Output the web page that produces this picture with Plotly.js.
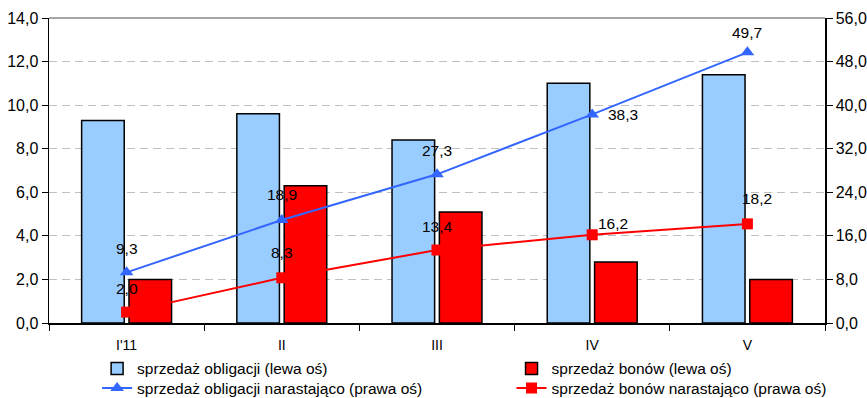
<!DOCTYPE html>
<html>
<head>
<meta charset="utf-8">
<script src="https://cdn.plot.ly/plotly-3.0.1.min.js"></script>
<style>
  html, body { margin: 0; padding: 0; background: #fff; }
  #chart { width: 867px; height: 398px; }
</style>
</head>
<body>
<div id="chart"></div>
<script>
// Months
const categories = ["I'11", "II", "III", "IV", "V"];
// Monthly sales (left axis)
const obligacje = [9.3, 9.6, 8.4, 11.0, 11.4];
const bony = [2.0, 6.3, 5.1, 2.8, 2.0];
// Cumulative sales (right axis)
const obligacjeNarast = [9.3, 18.9, 27.3, 38.3, 49.7];
const bonyNarast = [2.0, 8.3, 13.4, 16.2, 18.2];

const seriesNames = [
  "sprzedaż obligacji (lewa oś)",
  "sprzedaż bonów (lewa oś)",
  "sprzedaż obligacji narastająco (prawa oś)",
  "sprzedaż bonów narastająco (prawa oś)"
];

const FONT = "Arial, 'Liberation Sans', sans-serif";
const fmt = v => v.toFixed(1).replace('.', ',');

const traces = [
  {
    type: 'bar', name: seriesNames[0], x: categories, y: obligacje,
    marker: { color: '#99CCFF', line: { color: '#000', width: 1.5 } },
    legend: 'legend', hoverinfo: 'none'
  },
  {
    type: 'bar', name: seriesNames[1], x: categories, y: bony,
    marker: { color: '#FF0000', line: { color: '#000', width: 1.5 } },
    legend: 'legend2', hoverinfo: 'none'
  },
  {
    type: 'scatter', mode: 'lines+markers', name: seriesNames[2],
    x: categories, y: obligacjeNarast, yaxis: 'y2',
    line: { color: '#3366FF', width: 2 },
    marker: { symbol: 'triangle-up', size: 12, color: '#3366FF' },
    legend: 'legend3', hoverinfo: 'none'
  },
  {
    type: 'scatter', mode: 'lines+markers', name: seriesNames[3],
    x: categories, y: bonyNarast, yaxis: 'y2',
    line: { color: '#FF0000', width: 2 },
    marker: { symbol: 'square', size: 11, color: '#FF0000' },
    legend: 'legend4', hoverinfo: 'none'
  }
];

// Value labels for the cumulative lines (pixel offsets from each marker)
const blueShift = [[0, 24], [0, 26], [0, 24], [31, 0], [0, 20]];
const redShift = [[0, 24], [0, 25], [0, 24], [21, 11], [10, 25]];
const labelFont = { family: FONT, size: 15.5, color: '#000' };
const annotations = [];
obligacjeNarast.forEach((v, i) => annotations.push({
  x: i, y: v, xref: 'x', yref: 'y2', text: fmt(v), showarrow: false,
  xshift: blueShift[i][0], yshift: blueShift[i][1], font: labelFont
}));
bonyNarast.forEach((v, i) => annotations.push({
  x: i, y: v, xref: 'x', yref: 'y2', text: fmt(v), showarrow: false,
  xshift: redShift[i][0], yshift: redShift[i][1], font: labelFont
}));

// One legend box per entry, laid out as a 2x2 grid under the plot
const legendBase = {
  xref: 'container', yref: 'container',
  xanchor: 'left', yanchor: 'top', orientation: 'v',
  bgcolor: 'rgba(0,0,0,0)', borderwidth: 0,
  font: { family: FONT, size: 15.5, color: '#000' }
};
const legendCol = [0.112, 0.59];
const legendRow = [0.116, 0.067];

const yTickFont = { family: FONT, size: 16, color: '#000' };

const layout = {
  width: 867, height: 398,
  margin: { l: 49, r: 42, t: 18, b: 75, pad: 0, autoexpand: false },
  paper_bgcolor: '#fff', plot_bgcolor: '#fff',
  font: { family: FONT, size: 14, color: '#000' },
  separators: ',.',
  barmode: 'group', bargap: 0.39, bargroupgap: 0.1,
  showlegend: true,
  xaxis: {
    type: 'category', showgrid: false,
    showline: true, linecolor: '#000', linewidth: 1.5,
    ticks: 'outside', tickson: 'boundaries', ticklen: 6, tickcolor: '#000',
    tickangle: 0, ticklabelstandoff: 9,
    tickfont: { family: FONT, size: 14, color: '#000' },
    zeroline: false, fixedrange: true
  },
  yaxis: {
    range: [0, 14], dtick: 2, tickformat: '.1f',
    showgrid: true, gridcolor: '#c0c0c0', griddash: '8px,5px', gridwidth: 1,
    showline: true, linecolor: '#000', linewidth: 1.5,
    ticks: 'outside', ticklen: 6, tickcolor: '#000',
    tickfont: yTickFont,
    zeroline: false, fixedrange: true
  },
  yaxis2: {
    overlaying: 'y', side: 'right',
    range: [0, 56], dtick: 8, tickformat: '.1f',
    showgrid: false,
    showline: true, linecolor: '#000', linewidth: 1.5,
    ticks: 'outside', ticklen: 6, tickcolor: '#000',
    tickfont: yTickFont,
    zeroline: false, fixedrange: true
  },
  shapes: [
    { type: 'line', xref: 'paper', yref: 'paper', x0: 0, x1: 1, y0: 1, y1: 1,
      line: { color: '#888', width: 1.5 } }
  ],
  annotations: annotations,
  legend: Object.assign({}, legendBase, { x: legendCol[0], y: legendRow[0] }),
  legend2: Object.assign({}, legendBase, { x: legendCol[1], y: legendRow[0] }),
  legend3: Object.assign({}, legendBase, { x: legendCol[0], y: legendRow[1] }),
  legend4: Object.assign({}, legendBase, { x: legendCol[1], y: legendRow[1] })
};

Plotly.newPlot('chart', traces, layout, { displayModeBar: false, staticPlot: true });
</script>
</body>
</html>
